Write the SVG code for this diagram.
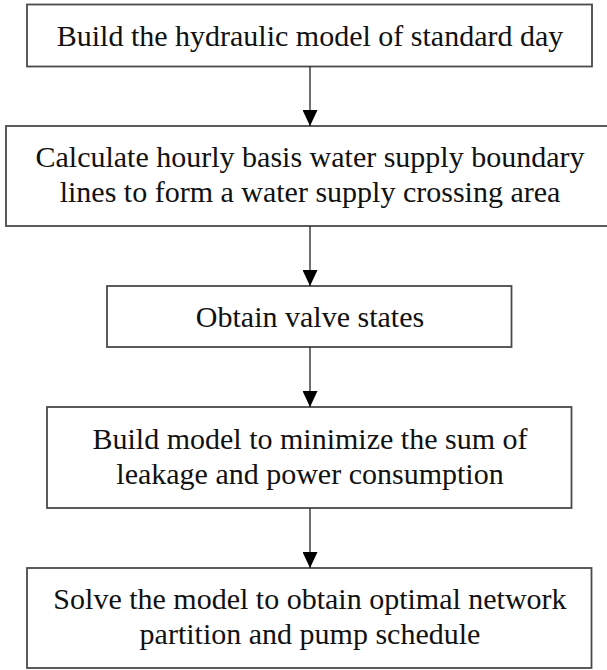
<svg xmlns="http://www.w3.org/2000/svg" width="607" height="670" viewBox="0 0 607 670">
<defs>
<marker id="arr" markerWidth="16" markerHeight="15" refX="16" refY="7.5" orient="auto" markerUnits="userSpaceOnUse">
<path d="M0,0 L16,7.5 L0,15 Z" fill="#000"/>
</marker>
<style>
.box{fill:#fff;stroke:#4a4a4a;stroke-width:1.8}
.t{font-family:"Liberation Serif","Times New Roman",serif;font-size:30px;fill:#111;text-anchor:middle}
.c{stroke:#222;stroke-width:1.3;fill:none}
</style>
</defs>
<rect width="607" height="670" fill="#fff"/>
<g id="n1"><rect class="box" x="27" y="4.5" width="565" height="62"/><text class="t" x="310" y="45.5">Build the hydraulic model of standard day</text></g>
<g id="n2"><rect class="box" x="6" y="126" width="605" height="100"/><text class="t" x="310" y="167">Calculate hourly basis water supply boundary</text><text class="t" x="310" y="202">lines to form a water supply crossing area</text></g>
<g id="n3"><rect class="box" x="107" y="286" width="404.5" height="61"/><text class="t" x="310" y="326.5">Obtain valve states</text></g>
<g id="n4"><rect class="box" x="47" y="407" width="524.5" height="101"/><text class="t" x="310" y="448.5">Build model to minimize the sum of</text><text class="t" x="310" y="483.5">leakage and power consumption</text></g>
<g id="n5"><rect class="box" x="27" y="568" width="564.5" height="100"/><text class="t" x="310" y="609">Solve the model to obtain optimal network</text><text class="t" x="310" y="644">partition and pump schedule</text></g>
<g id="connectors">
<line class="c" x1="310" y1="66.5" x2="310" y2="126" marker-end="url(#arr)"/>
<line class="c" x1="310" y1="226" x2="310" y2="286" marker-end="url(#arr)"/>
<line class="c" x1="310" y1="347" x2="310" y2="407" marker-end="url(#arr)"/>
<line class="c" x1="310" y1="508" x2="310" y2="568" marker-end="url(#arr)"/>
</g>
</svg>
